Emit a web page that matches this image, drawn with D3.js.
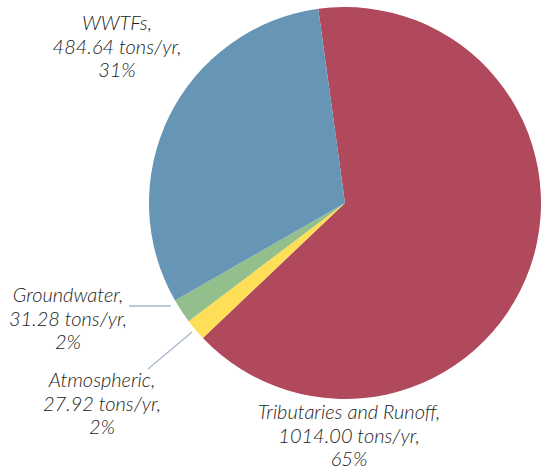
<!DOCTYPE html>
<html>
<head>
<meta charset="utf-8">
<script src="https://cdn.jsdelivr.net/npm/d3@7"></script>
<style>
  html, body { margin: 0; padding: 0; background: #fff; }
  svg { display: block; }
  .lbl { font-family: Lato, "Open Sans", sans-serif; font-style: italic; font-weight: 300; font-size: 20px; fill: #222; }
</style>
</head>
<body>
<svg id="chart" width="547" height="474"></svg>
<script>
// Nitrogen load sources (tons/yr)
const categories = ["Tributaries and Runoff", "Atmospheric", "Groundwater", "WWTFs"];
const loads = [1014.00, 27.92, 31.28, 484.64];
const percents = ["65%", "2%", "2%", "31%"];
const colors = ["#B0495C", "#FFDF57", "#93BF8C", "#6795B5"];

// label anchor (centre x, first baseline y) and optional leader line to the slice
const labelPos = [
  { x: 349, y: 419, leader: null },
  { x: 102, y: 387, leader: [[148, 369], [192, 332]] },
  { x: 68,  y: 302, leader: [[129, 306], [171, 306]] },
  { x: 117, y: 30,  leader: null }
];

const svg = d3.select("#chart");
const cx = 345, cy = 203, r = 196;

const data = categories.map((c, i) => ({ name: c, value: loads[i], pct: percents[i], color: colors[i], pos: labelPos[i] }));

const pie = d3.pie().sort(null).value(d => d.value)
  .startAngle(-7.85 * Math.PI / 180)
  .endAngle(-7.85 * Math.PI / 180 + 2 * Math.PI);
const arc = d3.arc().innerRadius(0).outerRadius(r);

const g = svg.append("g").attr("transform", `translate(${cx},${cy})`);
g.selectAll("path").data(pie(data)).join("path")
  .attr("d", arc)
  .attr("fill", d => d.data.color);

// leader lines
svg.selectAll("line.leader").data(data.filter(d => d.pos.leader)).join("line")
  .attr("class", "leader")
  .attr("x1", d => d.pos.leader[0][0]).attr("y1", d => d.pos.leader[0][1])
  .attr("x2", d => d.pos.leader[1][0]).attr("y2", d => d.pos.leader[1][1])
  .attr("stroke", "#A9B7CA").attr("stroke-width", 1.3);

// three-line labels
const lh = 23.5;
data.forEach(d => {
  const t = svg.append("text").attr("class", "lbl").attr("text-anchor", "middle");
  const lines = [d.name + ",", d.value.toFixed(2) + " tons/yr,", d.pct];
  lines.forEach((s, i) => {
    t.append("tspan").attr("x", d.pos.x).attr("y", d.pos.y + i * lh).text(s);
  });
});
</script>
</body>
</html>
